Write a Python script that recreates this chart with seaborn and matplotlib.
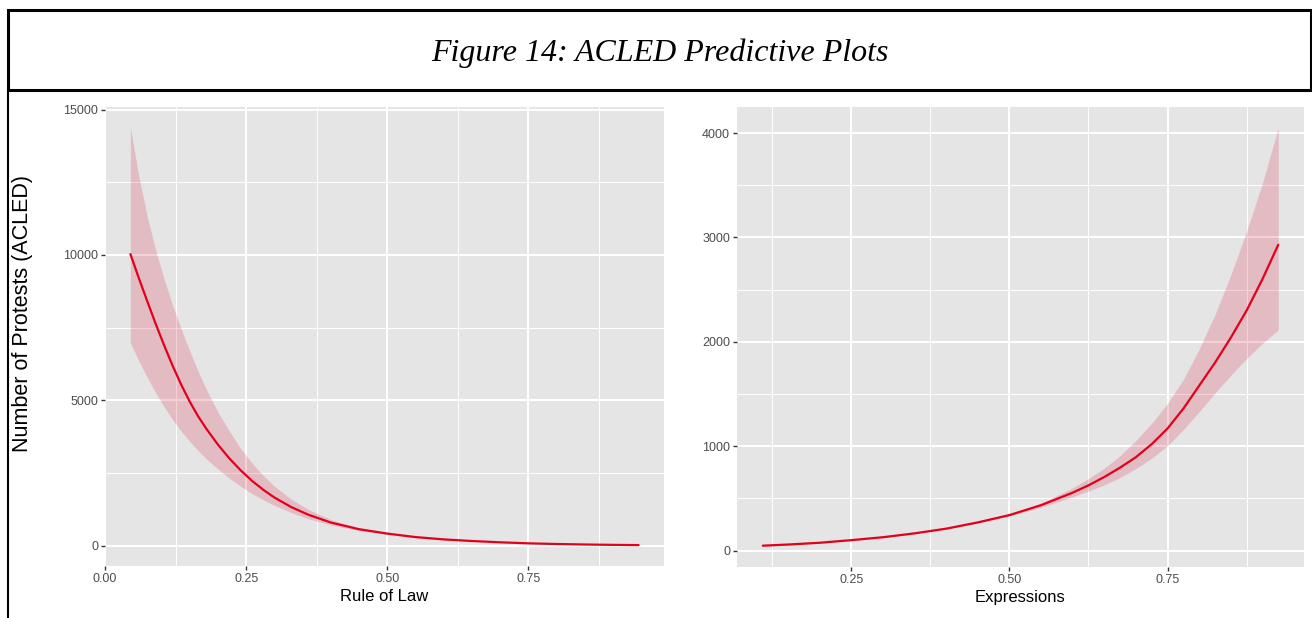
import numpy as np
import pandas as pd
import matplotlib
matplotlib.use("Agg")
import matplotlib.pyplot as plt
from matplotlib.patches import Rectangle
from matplotlib.lines import Line2D
import seaborn as sns

# ---------------- data ----------------
rule_x = [0.045, 0.06, 0.075, 0.09, 0.105, 0.12, 0.135, 0.15, 0.165, 0.18, 0.20, 0.22,
          0.24, 0.26, 0.28, 0.30, 0.33, 0.36, 0.40, 0.45, 0.50, 0.55, 0.60, 0.65,
          0.70, 0.75, 0.80, 0.85, 0.90, 0.945]
rule_mean = [10030, 9200, 8400, 7620, 6880, 6180, 5540, 4960, 4450, 4010, 3480, 3010,
             2600, 2240, 1930, 1660, 1330, 1070, 800, 570, 420, 300, 220, 165,
             120, 85, 62, 45, 32, 24]
rule_upper = [14370, 12700, 11300, 10150, 9150, 8250, 7450, 6700, 6000, 5350, 4600, 3950,
              3350, 2850, 2420, 2050, 1600, 1250, 900, 620, 450, 320, 233, 173,
              125, 88, 64, 46, 33, 25]
rule_lower = [6975, 6350, 5780, 5250, 4770, 4330, 3940, 3590, 3270, 2980, 2640, 2330,
              2050, 1800, 1580, 1390, 1140, 930, 720, 520, 390, 280, 207, 157,
              115, 82, 60, 44, 31, 23]

expr_x = [0.11, 0.15, 0.20, 0.25, 0.30, 0.35, 0.40, 0.45, 0.50, 0.55, 0.60, 0.625,
          0.65, 0.675, 0.70, 0.725, 0.75, 0.775, 0.80, 0.825, 0.85, 0.875, 0.90, 0.925]
expr_mean = [47, 58, 75, 100, 128, 165, 210, 270, 340, 435, 555, 625,
             705, 795, 895, 1020, 1170, 1360, 1580, 1800, 2040, 2300, 2600, 2930]
expr_upper = [52, 62, 79, 104, 132, 169, 214, 276, 350, 455, 600, 690,
              790, 910, 1055, 1220, 1410, 1640, 1930, 2260, 2640, 3060, 3520, 4050]
expr_lower = [43, 54, 71, 96, 124, 161, 206, 264, 330, 415, 515, 570,
              630, 700, 785, 885, 1005, 1160, 1330, 1510, 1680, 1840, 1985, 2115]

left_xticks = [0.00, 0.25, 0.50, 0.75]
left_xticklabels = ["0.00", "0.25", "0.50", "0.75"]
left_yticks = [0, 5000, 10000, 15000]
right_xticks = [0.25, 0.50, 0.75]
right_xticklabels = ["0.25", "0.50", "0.75"]
right_yticks = [0, 1000, 2000, 3000, 4000]

title_text = "Figure 14: ACLED Predictive Plots"
ylabel_text = "Number of Protests (ACLED)"
left_xlabel = "Rule of Law"
right_xlabel = "Expressions"

# ---------------- style ----------------
sns.set_theme(style="white")
plt.rcParams['font.family'] = ['Liberation Sans', 'DejaVu Sans']

LINE = "#E2001A"
RIBBON = "#DC143C"
PANEL = "#E5E5E5"

fig = plt.figure(figsize=(13.12, 6.18), dpi=100)
W, H = 1312, 618

def px_axes(x0, y0, x1, y1):
    return fig.add_axes([x0 / W, 1 - y1 / H, (x1 - x0) / W, (y1 - y0) / H])

ax1 = px_axes(105, 107, 664, 566)
ax2 = px_axes(737, 107, 1304, 567)

def gg_lim(vals):
    lo, hi = min(vals), max(vals)
    pad = 0.05 * (hi - lo)
    return lo - pad, hi + pad

def draw(ax, xs, mean, lower, upper, xticks, xticklabels, yticks, xlabel):
    df = pd.DataFrame({"x": xs, "mean": mean, "lower": lower, "upper": upper})
    ax.set_facecolor(PANEL)
    ax.fill_between(df["x"], df["lower"], df["upper"], color=RIBBON, alpha=0.2,
                    linewidth=0, zorder=2)
    sns.lineplot(data=df, x="x", y="mean", ax=ax, color=LINE, linewidth=1.6, zorder=3)
    ax.set_xticks(xticks)
    ax.set_xticklabels(xticklabels)
    ax.set_yticks(yticks)
    ax.set_yticklabels([str(v) for v in yticks])
    xt = list(xticks)
    step = xt[1] - xt[0]
    ax.set_xticks([xt[0] - step / 2] + [a + step / 2 for a in xt], minor=True)
    yt = list(yticks)
    ystep = yt[1] - yt[0]
    ax.set_yticks([a + ystep / 2 for a in yt] + [yt[0] - ystep / 2], minor=True)
    ax.set_xlim(*gg_lim(xs))
    ax.set_ylim(*gg_lim(list(lower) + list(upper)))
    ax.grid(True, which="major", color="white", linewidth=1.4, zorder=0)
    ax.grid(True, which="minor", color="white", linewidth=0.7, zorder=0)
    ax.set_axisbelow(True)
    for s in ax.spines.values():
        s.set_visible(False)
    ax.tick_params(axis="both", which="major", length=3, width=1.0, color="#333333",
                   labelcolor="#4D4D4D", labelsize=9, pad=2,
                   bottom=True, left=True)
    ax.tick_params(axis="both", which="minor", length=0)
    ax.set_xlabel(xlabel, fontsize=12, color="black", labelpad=3)
    ax.set_ylabel("")

draw(ax1, rule_x, rule_mean, rule_lower, rule_upper, left_xticks, left_xticklabels,
     left_yticks, left_xlabel)
draw(ax2, expr_x, expr_mean, expr_lower, expr_upper, right_xticks, right_xticklabels,
     right_yticks, right_xlabel)

fig.text(23 / W, 1 - 314 / H, ylabel_text, rotation=90, fontsize=15.5,
         ha="center", va="center", color="black")

# title box and frame
fig.patches.append(Rectangle((8 / W, 1 - 90 / H), (W - 9) / W, 80 / H,
                             transform=fig.transFigure, fill=False,
                             edgecolor="black", linewidth=2.2))
fig.lines.append(Line2D([8 / W, 8 / W], [0, 1 - 90 / H], transform=fig.transFigure,
                        color="black", linewidth=1.5))
fig.text(660 / W, 1 - 53 / H, title_text, fontsize=23, style="italic",
         family=["Liberation Serif", "DejaVu Serif"], ha="center", va="center",
         color="black")

fig.savefig("out.png", dpi=100, facecolor="white")
